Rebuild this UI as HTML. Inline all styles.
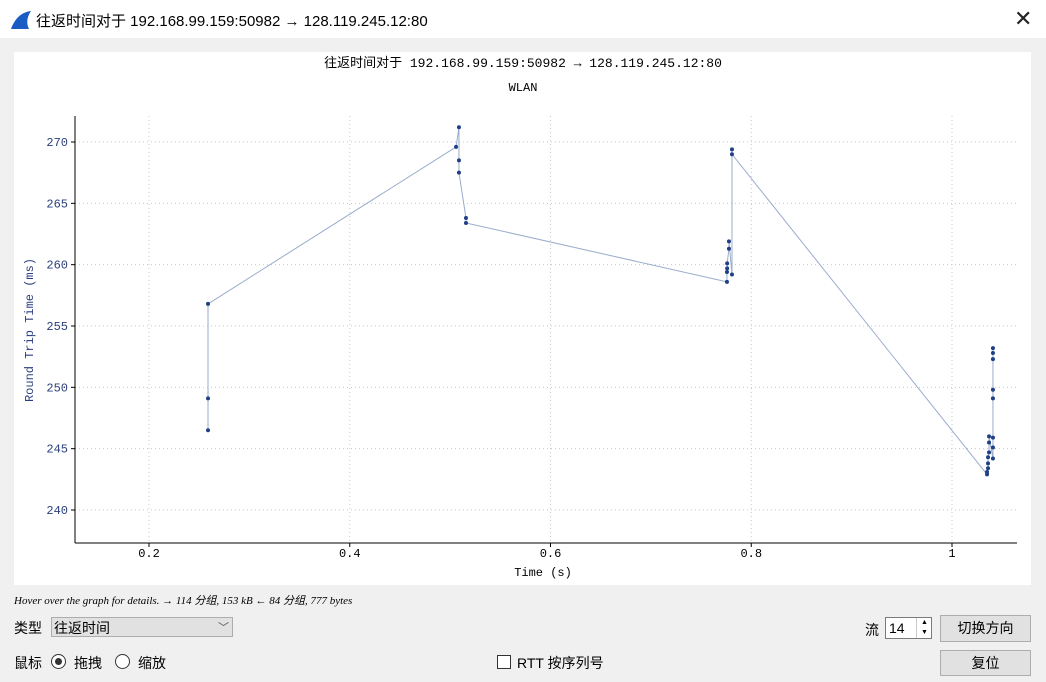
<!DOCTYPE html>
<html><head><meta charset="utf-8">
<style>
body{margin:0;width:1046px;height:682px;overflow:hidden;background:#f0f0f0;font-family:"Liberation Sans","Noto Sans CJK SC",sans-serif;position:relative}
.abs{position:absolute}
.cjk{font-family:"Liberation Sans","Noto Sans CJK SC",sans-serif;font-size:14px;color:#000}
.btn{position:absolute;background:#e1e1e1;border:1px solid #adadad;box-sizing:border-box;text-align:center;font-size:14px}
</style></head><body>
<div class="abs" style="left:0;top:0;width:1046px;height:38px;background:#fff">
  <svg class="abs" style="left:10px;top:10px" width="22" height="20"><path d="M1 19 C5 8 12 2 21 1 C17 7 16 13 19 19 Z" fill="#1a5bc4"/></svg>
  <div class="abs cjk" style="left:36px;top:10px;font-size:15px">往返时间对于 192.168.99.159:50982 → 128.119.245.12:80</div>
  <div class="abs" style="left:1014px;top:6px;font-size:22px;color:#222">✕</div>
</div>
<svg class="abs" style="left:0;top:0" width="1046" height="600" id="chart">
  <rect x="14" y="52" width="1017" height="533" fill="#fff"/>
  <text x="523" y="67" text-anchor="middle" font-family="Liberation Mono,'Noto Sans CJK SC',monospace" font-size="13" fill="#000">往返时间对于 192.168.99.159:50982 → 128.119.245.12:80</text>
  <text x="523" y="91" text-anchor="middle" font-family="Liberation Mono,monospace" font-size="12" fill="#000">WLAN</text>
  <g id="grid"></g><g id="axes"></g><g id="series"></g>
  <text transform="translate(33,330) rotate(-90)" text-anchor="middle" font-family="Liberation Mono,monospace" font-size="12" fill="#2b3f7e">Round Trip Time (ms)</text>
  <text x="543" y="576" text-anchor="middle" font-family="Liberation Mono,monospace" font-size="12" fill="#000">Time (s)</text>
</svg>
<div class="abs" style="left:14px;top:592px;font-family:'Liberation Serif','Noto Sans CJK SC',serif;font-style:italic;font-size:11px">Hover over the graph for details. → 114 分组, 153 kB ← 84 分组, 777 bytes</div>
<div class="abs cjk" style="left:14px;top:618px">类型</div>
<div class="abs" style="left:51px;top:617px;width:182px;height:20px;background:#e1e1e1;border:1px solid #adadad;box-sizing:border-box">
  <span class="abs cjk" style="left:2px;top:0px">往返时间</span><span class="abs" style="left:166px;top:1px;font-size:11px;color:#555">﹀</span></div>
<div class="abs cjk" style="left:14px;top:653px">鼠标</div>
<div class="abs" style="left:51px;top:654px;width:13px;height:13px;border:1px solid #333;border-radius:50%;background:#fff"><div style="margin:3px;width:7px;height:7px;border-radius:50%;background:#333"></div></div>
<div class="abs cjk" style="left:74px;top:653px">拖拽</div>
<div class="abs" style="left:115px;top:654px;width:13px;height:13px;border:1px solid #333;border-radius:50%;background:#fff"></div>
<div class="abs cjk" style="left:138px;top:653px">缩放</div>
<div class="abs" style="left:497px;top:655px;width:12px;height:12px;border:1px solid #333;background:#fff"></div>
<div class="abs cjk" style="left:517px;top:653px">RTT 按序列号</div>
<div class="abs cjk" style="left:865px;top:620px">流</div>
<div class="abs" style="left:885px;top:617px;width:47px;height:22px;background:#fff;border:1px solid #7a7a7a;box-sizing:border-box">
  <span class="abs cjk" style="left:3px;top:2px">14</span>
  <div class="abs" style="left:30px;top:0;width:15px;height:20px;border-left:1px solid #ccc;font-size:7px;line-height:10px;text-align:center">▲<br>▼</div></div>
<div class="btn" style="left:940px;top:615px;width:91px;height:27px;line-height:25px">切换方向</div>
<div class="btn" style="left:940px;top:650px;width:91px;height:26px;line-height:24px">复位</div>
<script>
const times=[0.2588,0.2588,0.2588,0.5059,0.5088,0.5088,0.5088,0.5158,0.5158,0.7758,0.7758,0.7760,0.7760,0.7778,0.7778,0.7808,0.7808,0.7808,1.0349,1.0349,1.0359,1.0359,1.0359,1.0369,1.0369,1.0369,1.0408,1.0408,1.0408,1.0408,1.0408,1.0408,1.0408,1.0408];
const rtts=[246.5,249.1,256.8,269.6,271.2,268.5,267.5,263.8,263.4,258.6,259.4,259.7,260.1,261.3,261.9,259.2,269.4,269.0,242.9,243.1,243.4,243.8,244.3,244.7,245.5,246.0,244.2,245.1,245.9,249.1,249.8,252.3,252.8,253.2];
const xTicks=[0.2,0.4,0.6,0.8,1.0];
const xTickLabels=["0.2","0.4","0.6","0.8","1"];
const yTicks=[240,245,250,255,260,265,270];
const yTickLabels=["240","245","250","255","260","265","270"];
const X=t=>149+(t-0.2)*1003.75;
const Y=v=>510-(v-240)*12.267;
const NS="http://www.w3.org/2000/svg";
function mk(tag,attrs,parent){const e=document.createElementNS(NS,tag);for(const k in attrs)e.setAttribute(k,attrs[k]);document.getElementById(parent).appendChild(e);return e;}
xTicks.forEach((t,i)=>{
  const g=mk('line',{x1:X(t),x2:X(t),y1:116,y2:543,stroke:'#c8c8c8','stroke-dasharray':'1,3'},'grid');
  
  
  const tk=mk('line',{x1:X(t),x2:X(t),y1:543,y2:547,stroke:'#000'},'axes');
  
  
  const tx=mk('text',{x:X(t),y:557,'text-anchor':'middle','font-family':'Liberation Mono,monospace','font-size':12,fill:'#000'},'axes');
  tx.textContent=xTickLabels[i];
  
  
});
yTicks.forEach((v,i)=>{
  const g=mk('line',{x1:75,x2:1017,y1:Y(v),y2:Y(v),stroke:'#c8c8c8','stroke-dasharray':'1,3'},'grid');
  
  
  const tk=mk('line',{x1:71,x2:75,y1:Y(v),y2:Y(v),stroke:'#000'},'axes');
  
  
  const tx=mk('text',{x:68,y:Y(v)+4,'text-anchor':'end','font-family':'Liberation Mono,monospace','font-size':12,fill:'#2b3f7e'},'axes');
  tx.textContent=yTickLabels[i];
  
  
});
const xa=mk('line',{x1:75,x2:1017,y1:543,y2:543,stroke:'#000'},'axes');


const ya=mk('line',{x1:75,x2:75,y1:116,y2:543,stroke:'#000'},'axes');


const pl=mk('polyline',{points:times.map((t,i)=>X(t)+','+Y(rtts[i])).join(' '),fill:'none',stroke:'#9aaccb','stroke-width':1},'series');


times.forEach((t,i)=>{
  const c=mk('circle',{cx:X(t),cy:Y(rtts[i]),r:2,fill:'#1f3f86'},'series');
  
  
});
</script>
</body></html>
